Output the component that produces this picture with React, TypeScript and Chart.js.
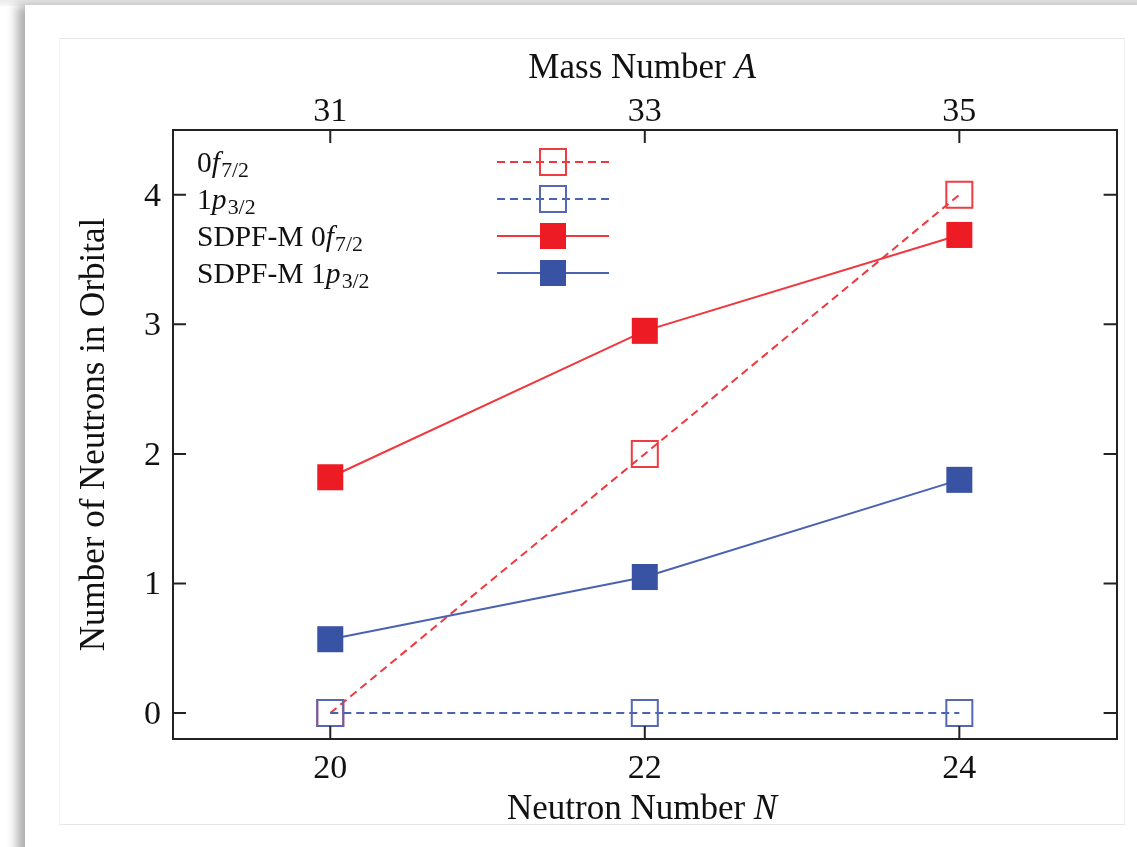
import React, { useEffect, useRef } from 'react';
import { Chart, registerables } from 'chart.js';

Chart.register(...registerables);

// ---------- data ----------
const neutronNumbers = [20, 22, 24];
const massNumbers = [31, 33, 35];
const yTickValues = [0, 1, 2, 3, 4];
const f72Simple = [0, 2, 4];
const p32Simple = [0, 0, 0];
const f72SDPFM = [1.82, 2.95, 3.69];
const p32SDPFM = [0.57, 1.05, 1.8];

type Run = { t: string; i?: boolean; sub?: boolean };

const legendLabels: Run[][] = [
  [{ t: '0' }, { t: 'f', i: true }, { t: '7/2', sub: true }],
  [{ t: '1' }, { t: 'p', i: true }, { t: '3/2', sub: true }],
  [{ t: 'SDPF-M 0' }, { t: 'f', i: true }, { t: '7/2', sub: true }],
  [{ t: 'SDPF-M 1' }, { t: 'p', i: true }, { t: '3/2', sub: true }],
];
const topTitle: Run[] = [{ t: 'Mass Number ' }, { t: 'A', i: true }];
const bottomTitle: Run[] = [{ t: 'Neutron Number ' }, { t: 'N', i: true }];
const leftTitle: Run[] = [{ t: 'Number of Neutrons in Orbital' }];

const RED = '#ed1c24';
const RED_LINE = '#f0373d';
const RED_OPEN = '#ef3c42';
const BLUE = '#3953a4';
const BLUE_LINE = '#4a62b2';
const BLUE_OPEN = '#5468b6';
const FONT = '"Liberation Serif", "Times New Roman", serif';

function fontFor(size: number, italic?: boolean) {
  return `${italic ? 'italic ' : ''}${size}px ${FONT}`;
}

function measureRuns(ctx: CanvasRenderingContext2D, runs: Run[], size: number) {
  let w = 0;
  for (const r of runs) {
    const s = r.sub ? size * 0.74 : size;
    ctx.font = fontFor(s, r.i);
    w += ctx.measureText(r.t).width + (r.i ? size * 0.04 : 0);
  }
  return w;
}

function drawRuns(
  ctx: CanvasRenderingContext2D,
  runs: Run[],
  x: number,
  y: number,
  size: number,
  align: 'left' | 'center'
) {
  let cx = align === 'center' ? x - measureRuns(ctx, runs, size) / 2 : x;
  ctx.textBaseline = 'alphabetic';
  ctx.textAlign = 'left';
  for (const r of runs) {
    const s = r.sub ? size * 0.74 : size;
    ctx.font = fontFor(s, r.i);
    const dy = r.sub ? size * 0.16 : 0;
    ctx.fillText(r.t, cx, y + dy);
    cx += ctx.measureText(r.t).width + (r.i ? size * 0.04 : 0);
  }
}

const legendStyles = [
  { color: RED_OPEN, line: RED_LINE, dash: [8, 5], filled: false },
  { color: BLUE_OPEN, line: BLUE_LINE, dash: [8, 5], filled: false },
  { color: RED, line: RED_LINE, dash: [] as number[], filled: true },
  { color: BLUE, line: BLUE_LINE, dash: [] as number[], filled: true },
];

const decorPlugin = {
  id: 'decor',
  afterDraw(chart: any) {
    const ctx: CanvasRenderingContext2D = chart.ctx;
    const { left, right, top, bottom } = chart.chartArea;
    const sx = chart.scales.x;
    const sx2 = chart.scales.x2;
    const sy = chart.scales.y;
    const TL = 13;
    ctx.save();
    // inward ticks
    ctx.strokeStyle = '#222';
    ctx.lineWidth = 2;
    ctx.setLineDash([]);
    ctx.beginPath();
    for (const v of neutronNumbers) {
      const px = sx.getPixelForValue(v);
      ctx.moveTo(px, bottom);
      ctx.lineTo(px, bottom - TL);
    }
    for (const v of massNumbers) {
      const px = sx2.getPixelForValue(v);
      ctx.moveTo(px, top);
      ctx.lineTo(px, top + TL);
    }
    for (const v of yTickValues) {
      const py = sy.getPixelForValue(v);
      ctx.moveTo(left, py);
      ctx.lineTo(left + TL, py);
      ctx.moveTo(right, py);
      ctx.lineTo(right - TL, py);
    }
    ctx.stroke();

    // axis titles
    ctx.fillStyle = '#111';
    const cxMid = (left + right) / 2;
    drawRuns(ctx, topTitle, cxMid - 2, 78, 35, 'center');
    drawRuns(ctx, bottomTitle, cxMid - 2, 819, 35, 'center');
    ctx.save();
    ctx.translate(104, (top + bottom) / 2);
    ctx.rotate(-Math.PI / 2);
    drawRuns(ctx, leftTitle, 0, 0, 35, 'center');
    ctx.restore();

    // legend
    const rowY = [162, 199, 236, 273];
    const lx0 = 497;
    const lx1 = 609;
    const mx = 553;
    const ms = 26;
    legendLabels.forEach((runs, k) => {
      const st = legendStyles[k];
      const y = rowY[k];
      ctx.fillStyle = '#111';
      drawRuns(ctx, runs, 197, y + 10, 29.5, 'left');
      ctx.strokeStyle = st.line;
      ctx.lineWidth = 2;
      ctx.setLineDash(st.dash);
      ctx.beginPath();
      ctx.moveTo(lx0, y);
      ctx.lineTo(lx1, y);
      ctx.stroke();
      ctx.setLineDash([]);
      if (st.filled) {
        ctx.fillStyle = st.color;
        ctx.fillRect(mx - ms / 2, y - ms / 2, ms, ms);
      } else {
        ctx.strokeStyle = st.color;
        ctx.lineWidth = 2;
        ctx.strokeRect(mx - ms / 2, y - ms / 2, ms, ms);
      }
    });
    ctx.restore();
  },
};

function toPoints(ys: number[]) {
  return neutronNumbers.map((x, i) => ({ x, y: ys[i] }));
}

export default function App() {
  const ref = useRef<HTMLCanvasElement | null>(null);

  useEffect(() => {
    if (!ref.current) return;
    const R = 18.4;
    const tickFont = { family: FONT, size: 34, lineHeight: 1 };
    const chart = new Chart(ref.current, {
      type: 'line',
      data: {
        datasets: [
          {
            label: '0f7/2',
            data: toPoints(f72Simple),
            borderColor: RED_LINE,
            borderWidth: 2,
            borderDash: [8, 5],
            pointStyle: 'rect',
            pointRadius: R,
            pointBorderColor: RED_OPEN,
            pointBackgroundColor: 'rgba(0,0,0,0)',
            pointBorderWidth: 2,
            order: 4,
          },
          {
            label: '1p3/2',
            data: toPoints(p32Simple),
            borderColor: BLUE_LINE,
            borderWidth: 2,
            borderDash: [8, 5],
            pointStyle: 'rect',
            pointRadius: R,
            pointBorderColor: BLUE_OPEN,
            pointBackgroundColor: 'rgba(0,0,0,0)',
            pointBorderWidth: 2,
            order: 3,
          },
          {
            label: 'SDPF-M 0f7/2',
            data: toPoints(f72SDPFM),
            borderColor: RED_LINE,
            borderWidth: 2,
            pointStyle: 'rect',
            pointRadius: R,
            pointBorderColor: RED,
            pointBackgroundColor: RED,
            pointBorderWidth: 0,
            order: 2,
          },
          {
            label: 'SDPF-M 1p3/2',
            data: toPoints(p32SDPFM),
            borderColor: BLUE_LINE,
            borderWidth: 2,
            pointStyle: 'rect',
            pointRadius: R,
            pointBorderColor: BLUE,
            pointBackgroundColor: BLUE,
            pointBorderWidth: 0,
            order: 1,
          },
        ],
      },
      options: {
        responsive: false,
        animation: false,
        events: [],
        clip: false as any,
        layout: { padding: 0 },
        plugins: {
          legend: { display: false },
          tooltip: { enabled: false },
          title: { display: false },
        },
        scales: {
          x: {
            type: 'linear',
            position: 'bottom',
            min: 19,
            max: 25,
            afterBuildTicks: (axis: any) => {
              axis.ticks = neutronNumbers.map((v) => ({ value: v }));
            },
            afterFit: (axis: any) => {
              axis.height = 108;
            },
            ticks: { font: tickFont, color: '#111', padding: 13 },
            grid: { drawOnChartArea: false, drawTicks: false },
            border: { color: '#222', width: 2 },
          },
          x2: {
            type: 'linear',
            position: 'top',
            min: 30,
            max: 36,
            afterBuildTicks: (axis: any) => {
              axis.ticks = massNumbers.map((v) => ({ value: v }));
            },
            afterFit: (axis: any) => {
              axis.height = 130;
            },
            ticks: { font: tickFont, color: '#111', padding: 1 },
            grid: { drawOnChartArea: false, drawTicks: false },
            border: { color: '#222', width: 2 },
          },
          y: {
            type: 'linear',
            position: 'left',
            min: -0.2,
            max: 4.5,
            afterBuildTicks: (axis: any) => {
              axis.ticks = yTickValues.map((v) => ({ value: v }));
            },
            afterFit: (axis: any) => {
              axis.width = 173;
            },
            ticks: { font: tickFont, color: '#111', padding: 12, labelOffset: 2 },
            grid: { drawOnChartArea: false, drawTicks: false },
            border: { color: '#222', width: 2 },
          },
          y2: {
            type: 'linear',
            position: 'right',
            min: -0.2,
            max: 4.5,
            afterBuildTicks: (axis: any) => {
              axis.ticks = yTickValues.map((v) => ({ value: v }));
            },
            afterFit: (axis: any) => {
              axis.width = 20;
            },
            ticks: { display: false },
            grid: { drawOnChartArea: false, drawTicks: false },
            border: { color: '#222', width: 2 },
          },
        },
      } as any,
      plugins: [decorPlugin],
    });
    return () => chart.destroy();
  }, []);

  return (
    <div
      style={{
        position: 'fixed',
        left: 0,
        top: 0,
        width: 1137,
        height: 847,
        background: '#fff',
        overflow: 'hidden',
      }}
    >
      <div
        style={{
          position: 'absolute',
          left: 0,
          top: 0,
          width: 1137,
          height: 6,
          background: 'linear-gradient(#ececec, #f7f7f7)',
        }}
      />
      <div
        style={{
          position: 'absolute',
          left: 25,
          top: 5,
          width: 1200,
          height: 900,
          background: '#fff',
          boxShadow: '-8px 0 10px rgba(0,0,0,0.32)',
        }}
      />
      <div
        style={{
          position: 'absolute',
          left: 59,
          top: 38,
          width: 1066,
          height: 787,
          boxSizing: 'border-box',
          borderTop: '1px solid #e6e6e6',
          borderBottom: '1px solid #e6e6e6',
          borderRight: '1px solid #efefef',
          borderLeft: '1px solid #f6f6f6',
          background: '#fff',
        }}
      />
      <canvas
        ref={ref}
        width={1137}
        height={847}
        style={{ position: 'absolute', left: 0, top: 0, width: 1137, height: 847 }}
      />
    </div>
  );
}
